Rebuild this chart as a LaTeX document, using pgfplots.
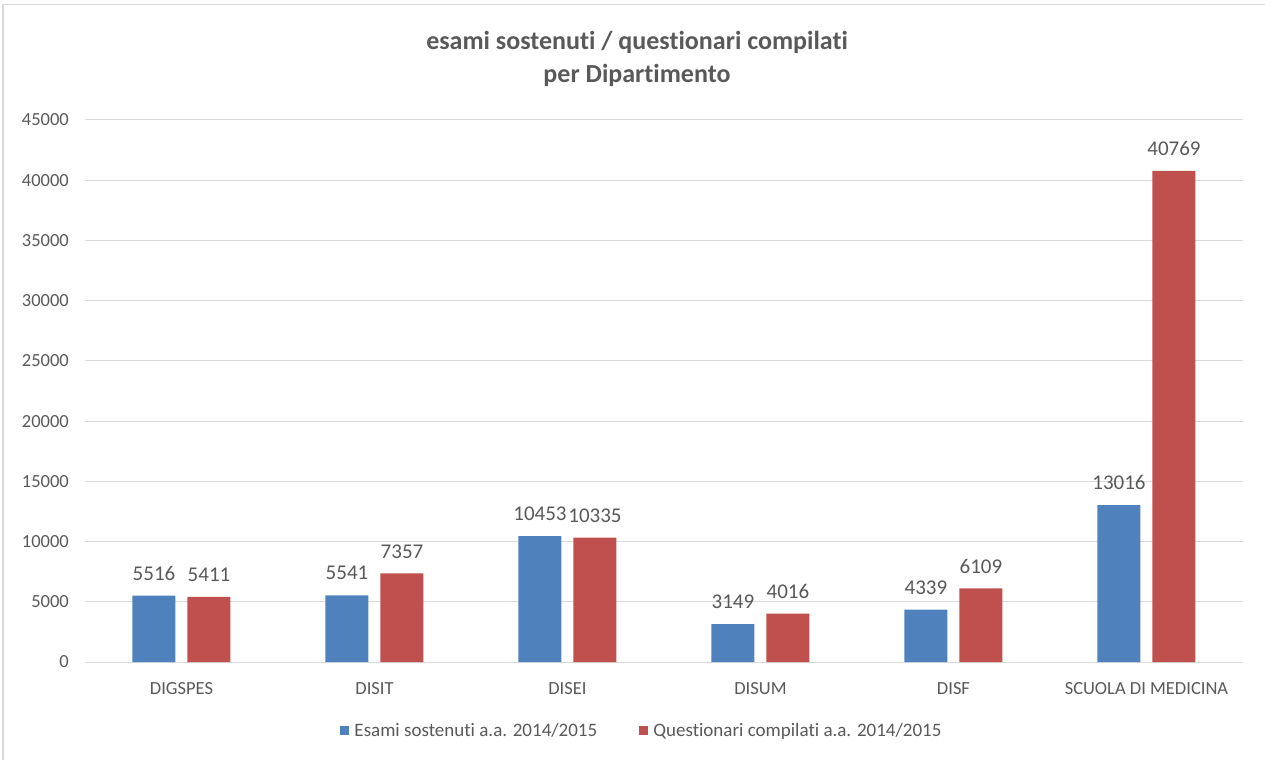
\documentclass[border=0pt]{standalone}
\usepackage{fontspec}
\setmainfont{Carlito}[RawFeature={-liga;-clig;-calt;-dlig}]
\usepackage{pgfplots}
\pgfplotsset{compat=1.18}
\definecolor{barblue}{HTML}{4F81BD}
\definecolor{barred}{HTML}{C0504D}
\definecolor{txt}{HTML}{595959}
\definecolor{gridc}{HTML}{D9D9D9}
\begin{document}
\begin{tikzpicture}[x=1pt,y=1pt]
\path[use as bounding box] (0,0) rectangle (1265,760);
% chart frame (left and top edges visible)
\draw[gridc, line width=1.5pt] (3,0) -- (3,755.5) -- (1265,755.5);
% title
\node[font=\fontsize{26}{33}\selectfont\bfseries, text=txt, align=center]
  at (637,701) {esami sostenuti / questionari compilati\\per Dipartimento};

\begin{axis}[
    at={(85pt,98pt)}, anchor=south west,
    scale only axis, width=1158pt, height=542pt,
    ybar=12pt, bar width=43pt,
    xmin=-0.5, xmax=5.5, ymin=0, ymax=45000,
    ytick={0,5000,...,45000},
    xtick={0,...,5},
    xticklabels={DIGSPES,DISIT,DISEI,DISUM,DISF,SCUOLA DI MEDICINA},
    axis line style={draw=none},
    major tick length=0pt,
    ymajorgrids=true,
    grid style={gridc, line width=1pt},
    scaled y ticks=false,
    /pgf/number format/.cd, 1000 sep={}, assume math mode=true, /pgfplots/.cd,
    yticklabel style={font=\fontsize{18.5}{22}\selectfont, text=txt, inner sep=0pt, anchor=east, xshift=-16pt},
    xticklabel style={font=\fontsize{18.5}{22}\selectfont, text=txt, inner sep=0pt, anchor=north, yshift=-20pt},
    nodes near coords,
    nodes near coords style={font=\fontsize{21}{25}\selectfont, text=txt, inner sep=0pt, anchor=south, yshift=15pt},
    legend style={at={(0.481,-0.127)}, anchor=center, draw=none, fill=none,
      font=\fontsize{19}{22}\selectfont, text=txt,
      /tikz/every odd column/.append style={column sep=3pt},
      /tikz/every even column/.append style={column sep=40pt}},
    legend columns=2,
    legend image code/.code={\draw[#1, draw=none] (0pt,-4.5pt) rectangle (9pt,4.5pt);},
  ]
  \addplot[fill=barblue, draw=none] coordinates {
    (0,5516) (1,5541) (2,10453) (3,3149) (4,4339) (5,13016)
  };
  \addplot[fill=barred, draw=none] coordinates {
    (0,5411) (1,7357) (2,10335) (3,4016) (4,6109) (5,40769)
  };
  \legend{Esami sostenuti a.a. 2014/2015, Questionari compilati a.a. 2014/2015}
\end{axis}
\end{tikzpicture}
\end{document}
